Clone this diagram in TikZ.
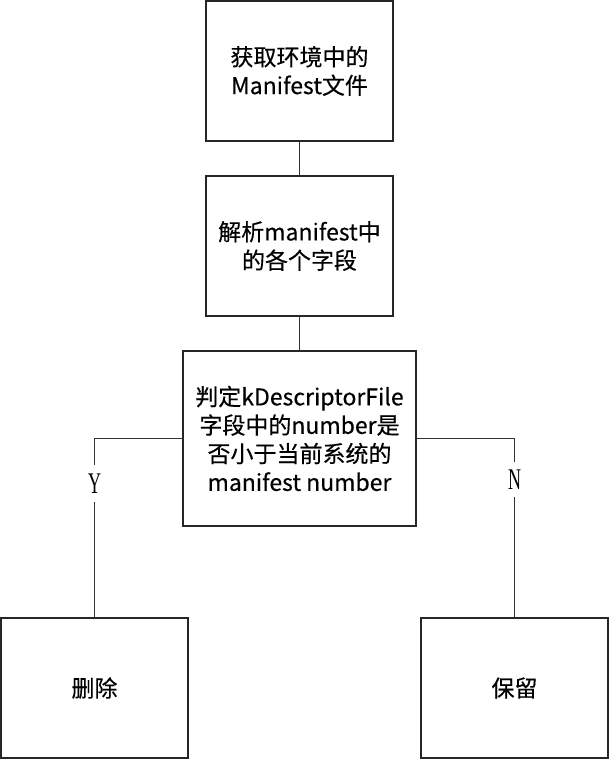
\documentclass[tikz,border=0pt]{standalone}
\usepackage{fontspec}
\setmainfont{Noto Sans CJK SC}
\newfontfamily\boxfont{Noto Sans CJK SC}[FakeBold=0.35]
\newfontfamily\serifyn{Liberation Serif}
\begin{document}
\begin{tikzpicture}[x=1pt,y=-1pt,
  box/.style={draw=black!85,line width=1.2pt,fill=white,inner sep=0pt,align=center,
    font=\boxfont\fontsize{23}{28.5}\selectfont},
  smallbox/.style={box,minimum width=187pt,minimum height=140pt},
  conn/.style={draw=black!80,line width=1pt},
  yn/.style={inner sep=0pt,font=\serifyn\fontsize{30}{30}\selectfont}]
\useasboundingbox (0,0) rectangle (609,759);
\node[smallbox] (a) at (299.5,71) {获取环境中的\\Manifest文件};
\node[smallbox] (b) at (299.5,246) {解析manifest中\\的各个字段};
\node[box,minimum width=233pt,minimum height=175pt] (c) at (299.5,438.5)
  {判定kDescriptorFile\\字段中的number是\\否小于当前系统的\\manifest number};
\node[smallbox] (d) at (94.5,688) {删除};
\node[smallbox] (e) at (514.5,688) {保留};
\node[yn,minimum height=37pt] (ly) at (94.5,483.5) {\scalebox{0.6}[1]{Y}};
\node[yn,minimum height=35pt] (ln) at (514.5,479.5) {\scalebox{0.6}[1]{N}};
\draw[conn] (a.south) -- (b.north);
\draw[conn] (b.south) -- (c.north);
\draw[conn] (c.west) -| (ly.north);
\draw[conn] (ly.south) -- (d.north);
\draw[conn] (c.east) -| (ln.north);
\draw[conn] (ln.south) -- (e.north);
\end{tikzpicture}
\end{document}
